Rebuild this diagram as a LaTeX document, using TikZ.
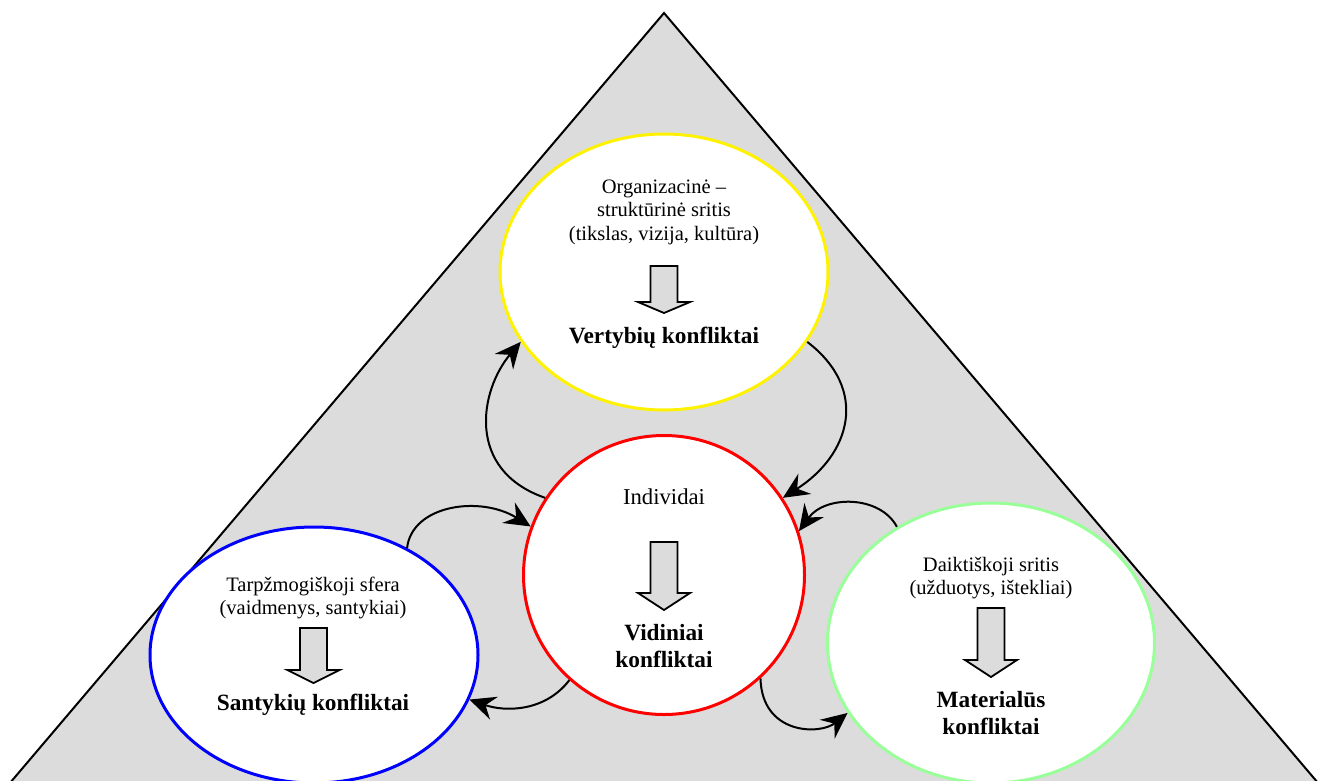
\documentclass[tikz,border=0pt]{standalone}
\usepackage{fontspec}
\setmainfont{Liberation Serif}
\usetikzlibrary{shapes.geometric,arrows.meta}
\definecolor{pyramidgray}{RGB}{220,220,220}
\definecolor{softgreen}{RGB}{153,255,153}
\newcommand{\plaintext}{\fontsize{20.5}{23.5}\selectfont}
\newcommand{\strongtext}{\fontsize{23.3}{27}\selectfont\bfseries}
% block arrow: x, top, start of head, tip
\newcommand{\blockarrow}[4]{%
  \filldraw[fill=pyramidgray, line width=1.8pt] (#1-13.5,#2) -- (#1+13.5,#2) -- (#1+13.5,#3) -- (#1+26,#3) -- (#1,#4) -- (#1-26,#3) -- (#1-13.5,#3) -- cycle;}
\tikzset{
  sphere/.style={ellipse, draw, fill=white, line width=3pt, inner sep=0pt},
  link/.style={-{Stealth[length=26pt,width=24pt,inset=9pt]}, line width=2pt}
}

\begin{document}
\begin{tikzpicture}[x=1pt, y=-1pt, every node/.style={align=center}]
        \useasboundingbox (0,0) rectangle (1323,780);
        \clip (0,0) rectangle (1323,780);

        % Pyramid
        \filldraw[fill=pyramidgray, line width=2pt] (664,13) -- (4,790) -- (1324,790) -- cycle;

        % Spheres
        \node[sphere, draw=yellow, minimum width=328pt, minimum height=276pt] (values) at (664,272) {};
        \node[sphere, draw=red, minimum width=281pt, minimum height=279pt] (indiv) at (664,575) {};
        \node[sphere, draw=blue, minimum width=328pt, minimum height=256pt] (people) at (314,655) {};
        \node[sphere, draw=softgreen, minimum width=327pt, minimum height=280pt] (things) at (991,643) {};

        % Texts
        \node[font=\plaintext] (valuesarea) at (664,212) {Organizacinė –\\struktūrinė sritis\\(tikslas, vizija, kultūra)};
        \node[font=\strongtext] (valuesconf) at (664,338) {Vertybių konfliktai};
        \node[font=\fontsize{22.7}{26}\selectfont] (indivarea) at (664,497) {Individai};
        \node[font=\strongtext] (indivconf) at (664,646) {Vidiniai\\konfliktai};
        \node[font=\plaintext] (peoplearea) at (313,598) {Tarpžmogiškoji sfera\\(vaidmenys, santykiai)};
        \node[font=\strongtext] (peopleconf) at (313,705) {Santykių konfliktai};
        \node[font=\plaintext] (thingsarea) at (991,578) {Daiktiškoji sritis\\(užduotys, ištekliai)};
        \node[font=\strongtext] (thingsconf) at (991,713) {Materialūs\\konfliktai};

        % Block arrows
        \blockarrow{664}{266}{302}{313}
        \blockarrow{664}{542}{593}{610}
        \blockarrow{313.5}{628}{670}{683}
        \blockarrow{991}{608}{660}{677}

        % Links
        \draw[link] (indiv.147) .. controls (465,470) and (480,390) .. (values.206);
        \draw[link] (values.334) .. controls (870,390) and (850,455) .. (indiv.33);
        \draw[link] (things.129) .. controls (880,495) and (825,495) .. (indiv.18);
        \draw[link] (people.49) .. controls (412,505) and (480,495) .. (indiv.160);
        \draw[link] (indiv.228) .. controls (545,712) and (505,712) .. (people.344);
        \draw[link] (indiv.313) .. controls (762,735) and (820,735) .. (things.206);
    \end{tikzpicture}
\end{document}
